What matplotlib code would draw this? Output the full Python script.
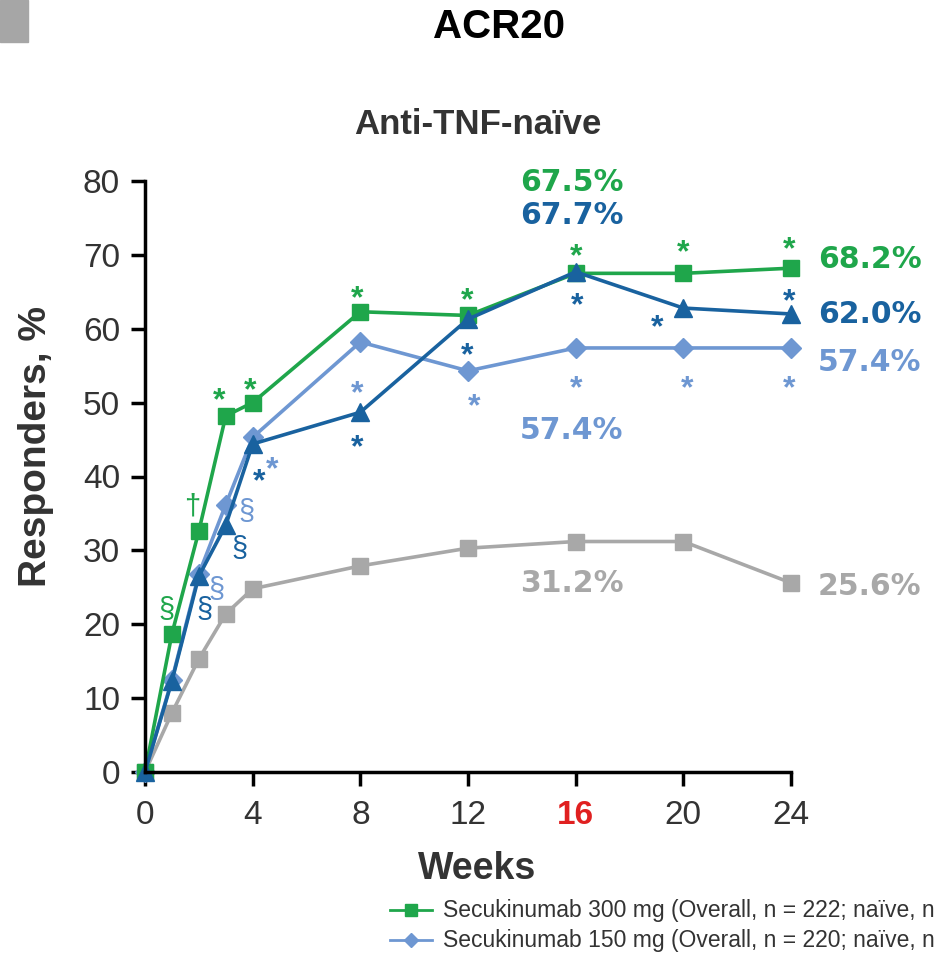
import matplotlib
matplotlib.use("Agg")
import matplotlib.pyplot as plt
from matplotlib.lines import Line2D
from matplotlib.patches import Rectangle

# ACR20 responders over time, anti-TNF-naive patients
weeks = [0, 1, 2, 3, 4, 8, 12, 16, 20, 24]
sec300 = [0, 18.7, 32.6, 48.2, 50.0, 62.3, 61.8, 67.5, 67.5, 68.2]
sec150_ld = [0, 12.3, 26.5, 33.4, 44.4, 48.7, 61.3, 67.7, 62.8, 62.0]
sec150 = [0, 12.5, 26.8, 36.2, 45.3, 58.2, 54.3, 57.4, 57.4, 57.4]
placebo = [0, 8.0, 15.3, 21.4, 24.8, 27.9, 30.3, 31.2, 31.2, 25.6]

x_ticks = [0, 4, 8, 12, 16, 20, 24]
y_ticks = [0, 10, 20, 30, 40, 50, 60, 70, 80]
legend_labels = ["Secukinumab 300 mg (Overall, n = 222; naïve, n",
                 "Secukinumab 150 mg (Overall, n = 220; naïve, n"]

GREEN = "#1fa64b"
DARK = "#19629f"
LIGHT = "#6e97d2"
GREY = "#a8a8a8"
TEXT = "#333333"

series = {
    "grey": (placebo, GREY, "s", 11.5),
    "light": (sec150, LIGHT, "D", 10.5),
    "green": (sec300, GREEN, "s", 11.5),
    "dark": (sec150_ld, DARK, "^", 12.5),
}

# significance marks: (series, week index, symbol, dx px, dy px)
marks = [
    ("green", 1, "§", -5, 24), ("green", 2, "†", -7, 25),
    ("green", 3, "*", -7, 23), ("green", 4, "*", -3, 19),
    ("green", 5, "*", -3, 21), ("green", 6, "*", -1, 22),
    ("green", 7, "*", 0, 24), ("green", 8, "*", 0, 28), ("green", 9, "*", -2, 26),
    ("dark", 2, "§", 6, -34), ("dark", 3, "§", 14, -24), ("dark", 4, "*", 6, -30),
    ("dark", 5, "*", -3, -28), ("dark", 6, "*", -1, -29), ("dark", 7, "*", 1, -26),
    ("dark", 8, "*", -26, -12), ("dark", 9, "*", -2, 20),
    ("light", 2, "§", 18, -16), ("light", 3, "§", 21, -7), ("light", 4, "*", 19, -25),
    ("light", 5, "*", -3, -44), ("light", 6, "*", 6, -28), ("light", 7, "*", 0, -33),
    ("light", 8, "*", 4, -33), ("light", 9, "*", -2, -33),
]

# value labels: (series, week index, text, dx px, dy px, ha)
values = [
    ("green", 7, "67.5%", -4, 91, "center"),
    ("dark", 7, "67.7%", -4, 56, "center"),
    ("light", 7, "57.4%", -4, -83, "center"),
    ("grey", 7, "31.2%", -4, -42, "center"),
    ("green", 9, "68.2%", 27, 9, "left"),
    ("dark", 9, "62.0%", 27, -1, "left"),
    ("light", 9, "57.4%", 27, -15, "left"),
    ("grey", 9, "25.6%", 27, -4, "left"),
]

fig = plt.figure(figsize=(9.35, 9.58), dpi=100)
ax = fig.add_axes([145 / 935, 1 - 772 / 958, (791 - 145) / 935, (772 - 181) / 958])

for key, (vals, col, mk, ms) in series.items():
    ax.plot(weeks, vals, color=col, lw=2.6, marker=mk, markersize=ms,
            markeredgecolor=col, clip_on=False)

ax.set_xlim(0, 24)
ax.set_ylim(0, 80)
ax.set_xticks(x_ticks)
ax.set_yticks(y_ticks)
ax.tick_params(direction="out", length=10, width=2.5, labelsize=24,
               labelcolor=TEXT, pad=8)
ax.tick_params(axis="x", pad=10)
for lab in ax.get_xticklabels():
    lab.set_fontfamily("Liberation Sans")
    if lab.get_text() == "16":
        lab.set_color("#e02020")
        lab.set_fontweight("bold")
for lab in ax.get_yticklabels():
    lab.set_fontfamily("Liberation Sans")
for s in ["top", "right"]:
    ax.spines[s].set_visible(False)
for s in ["left", "bottom"]:
    ax.spines[s].set_linewidth(2.5)

ax.set_xlabel("Weeks", fontsize=27, fontweight="bold", color=TEXT,
              family="Liberation Sans")
ax.set_ylabel("Responders, %", fontsize=28, fontweight="bold", color=TEXT,
              family="Liberation Sans")
ax.xaxis.set_label_coords(0.514, -0.133)
ax.yaxis.set_label_coords(-0.141, 0.55)

for key, i, sym, dx, dy in marks:
    vals, col = series[key][0], series[key][1]
    size = 23 if sym == "*" else 21
    ax.annotate(sym, (weeks[i], vals[i]), xytext=(dx, dy - (8 if sym == "*" else 0)),
                textcoords="offset pixels", ha="center", va="center",
                color=col, fontsize=size, family="Liberation Sans",
                fontweight="bold" if sym == "*" else "normal")

for key, i, txt, dx, dy, ha in values:
    vals, col = series[key][0], series[key][1]
    ax.annotate(txt, (weeks[i], vals[i]), xytext=(dx, dy),
                textcoords="offset pixels", ha=ha, va="center",
                color=col, fontsize=21.5, fontweight="bold", family="DejaVu Sans",
                annotation_clip=False)

# header
fig.patches.append(Rectangle((0, 1 - 42 / 958), 28 / 935, 42 / 958,
                             transform=fig.transFigure, color="#a6a6a6"))
fig.text(499 / 935, 1 - 27 / 958, "ACR20", ha="center", va="center",
         fontsize=29, fontweight="bold", family="Liberation Sans")
fig.text(478 / 935, 1 - 124 / 958, "Anti-TNF-naïve", ha="center", va="center",
         fontsize=25, fontweight="bold", family="Liberation Sans", color=TEXT)

# legend (cut at the right edge as in the source)
for row, (lab, key) in enumerate(zip(legend_labels, ["green", "light"])):
    y = 1 - (910 + row * 30) / 958
    col, mk = series[key][1], series[key][2]
    fig.add_artist(Line2D([390 / 935, 432 / 935], [y, y], color=col, lw=2,
                          transform=fig.transFigure))
    fig.add_artist(Line2D([411 / 935], [y], color=col, marker=mk,
                          markersize=8 if mk == "s" else 7, transform=fig.transFigure))
    fig.text(443 / 935, y, lab, ha="left", va="center", fontsize=16.5,
             family="Liberation Sans", color=TEXT)

fig.savefig("out.png", dpi=100)
